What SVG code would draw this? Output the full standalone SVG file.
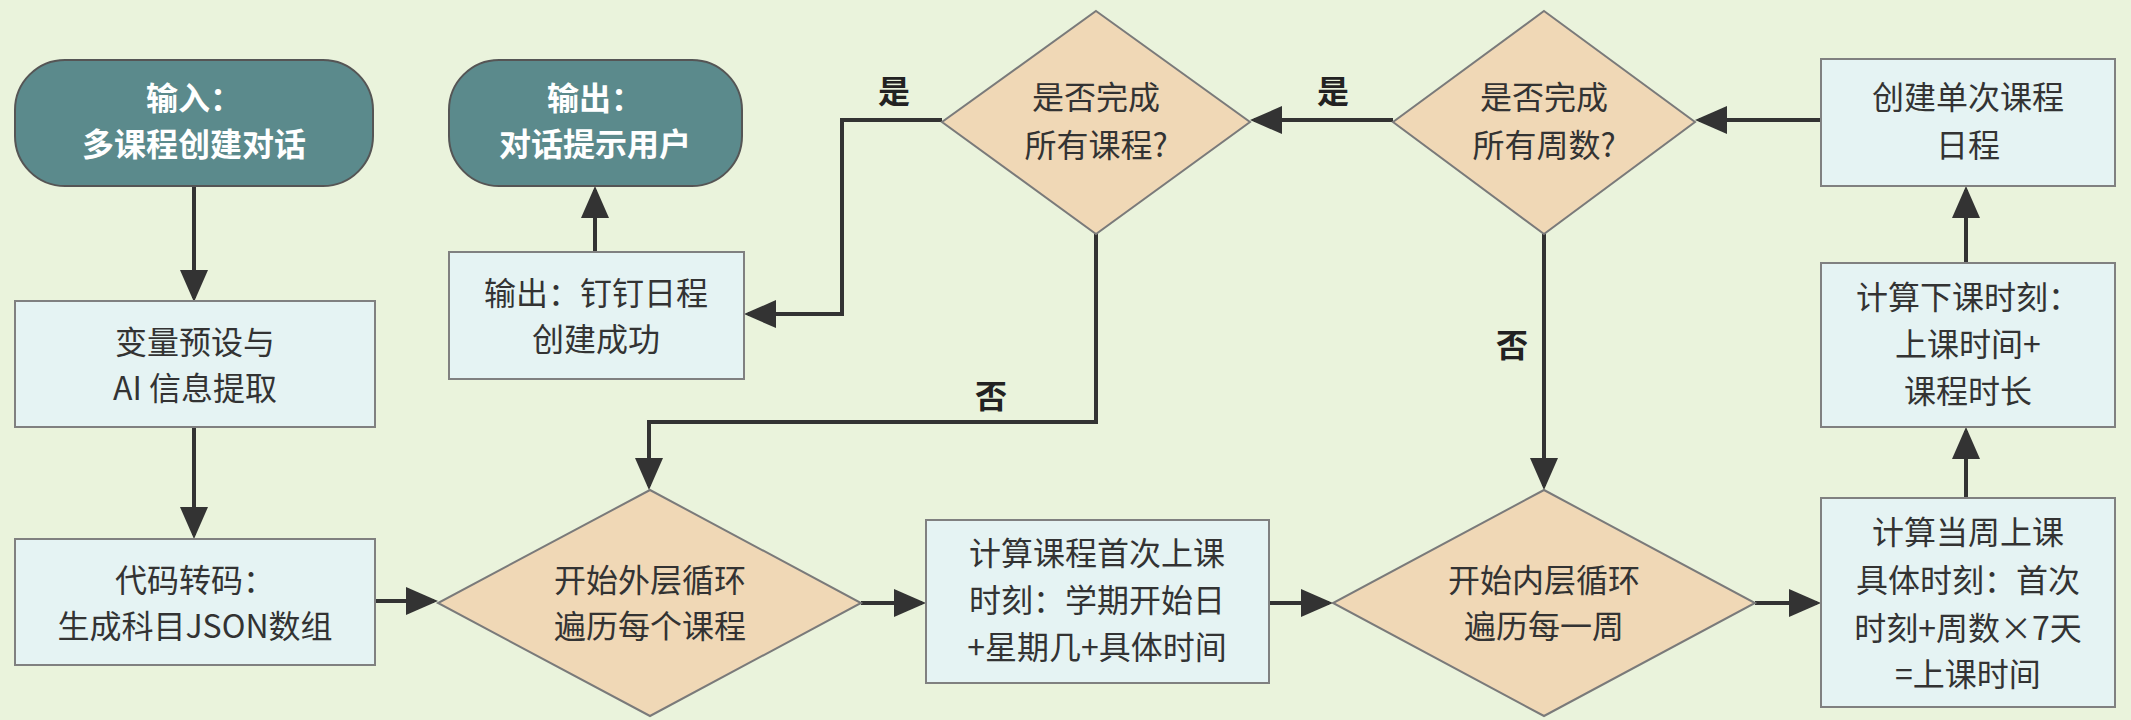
<svg xmlns="http://www.w3.org/2000/svg" width="2131" height="720" viewBox="0 0 2131 720">
<style>
.box{fill:#e5f3f3;stroke:#808080;stroke-width:2}
.dia{fill:#f0d8b6;stroke:#7a7a7a;stroke-width:2}
.term{fill:#5b8a8c;stroke:#555;stroke-width:2}
text{font-family:"Noto Sans CJK SC","Noto Sans",sans-serif;font-size:32px;fill:#333;text-anchor:middle}
.tw{fill:#fff;font-weight:bold}
.lb{font-weight:bold;fill:#222}
.c{fill:none;stroke:#333;stroke-width:4}
</style>
<defs><marker id="a" markerWidth="8" markerHeight="8" refX="7" refY="4" orient="auto" markerUnits="strokeWidth"><path d="M0,0.5 L8,4 L0,7.5 Z" fill="#333"/></marker></defs>
<rect width="2131" height="720" fill="#eaf3dc"/>
<g id="connectors">
<path class="c" marker-end="url(#a)" d="M194,186 V298"/>
<path class="c" marker-end="url(#a)" d="M194,427 V535"/>
<path class="c" marker-end="url(#a)" d="M375,601 H434"/>
<path class="c" marker-end="url(#a)" d="M861,603 H922"/>
<path class="c" marker-end="url(#a)" d="M1269,603 H1329"/>
<path class="c" marker-end="url(#a)" d="M1755,603 H1817"/>
<path class="c" marker-end="url(#a)" d="M1966,498 V431"/>
<path class="c" marker-end="url(#a)" d="M1966,263 V190"/>
<path class="c" marker-end="url(#a)" d="M1821,120 H1699"/>
<path class="c" marker-end="url(#a)" d="M1393,120 H1254"/>
<path class="c" marker-end="url(#a)" d="M1544,234 V486"/>
<path class="c" marker-end="url(#a)" d="M942,120 H842 V314 H748"/>
<path class="c" marker-end="url(#a)" d="M1096,234 V422 H649 V486"/>
<path class="c" marker-end="url(#a)" d="M595,252 V190"/>
<text class="lb" x="894" y="103">是</text>
<text class="lb" x="1333" y="103">是</text>
<text class="lb" x="991" y="408">否</text>
<text class="lb" x="1512" y="357">否</text>
</g>
<g id="input"><rect class="term" x="15" y="60" width="358" height="126" rx="50"/><text class="tw" x="194" y="110">输入：</text><text class="tw" x="194" y="156">多课程创建对话</text></g>
<g id="output"><rect class="term" x="449" y="60" width="293" height="126" rx="50"/><text class="tw" x="595" y="110">输出：</text><text class="tw" x="595" y="156">对话提示用户</text></g>
<g id="outbox"><rect class="box" x="449" y="252" width="295" height="127"/><text x="596" y="305">输出：钉钉日程</text><text x="596" y="351">创建成功</text></g>
<g id="preset"><rect class="box" x="15" y="301" width="360" height="126"/><text x="195" y="354">变量预设与</text><text x="195" y="400">AI 信息提取</text></g>
<g id="transcode"><rect class="box" x="15" y="539" width="360" height="126"/><text x="195" y="592">代码转码：</text><text x="195" y="638">生成科目JSON数组</text></g>
<g id="outer"><polygon class="dia" points="650,490 861,603 650,716 438,603"/><text x="650" y="592">开始外层循环</text><text x="650" y="638">遍历每个课程</text></g>
<g id="first"><rect class="box" x="926" y="520" width="343" height="163"/><text x="1097" y="565">计算课程首次上课</text><text x="1097" y="612">时刻：学期开始日</text><text x="1097" y="659">+星期几+具体时间</text></g>
<g id="inner"><polygon class="dia" points="1544,490 1755,603 1544,716 1333,603"/><text x="1544" y="592">开始内层循环</text><text x="1544" y="638">遍历每一周</text></g>
<g id="week"><rect class="box" x="1821" y="498" width="294" height="209"/><text x="1968" y="544">计算当周上课</text><text x="1968" y="592">具体时刻：首次</text><text x="1968" y="640">时刻+周数×7天</text><text x="1968" y="686">=上课时间</text></g>
<g id="end"><rect class="box" x="1821" y="263" width="294" height="164"/><text x="1968" y="309">计算下课时刻：</text><text x="1968" y="356">上课时间+</text><text x="1968" y="403">课程时长</text></g>
<g id="create"><rect class="box" x="1821" y="59" width="294" height="127"/><text x="1968" y="109">创建单次课程</text><text x="1968" y="157">日程</text></g>
<g id="weeksdone"><polygon class="dia" points="1544,11 1695,122 1544,234 1393,122"/><text x="1544" y="109">是否完成</text><text x="1544" y="157">所有周数?</text></g>
<g id="coursesdone"><polygon class="dia" points="1096,11 1250,122 1096,234 942,122"/><text x="1096" y="109">是否完成</text><text x="1096" y="157">所有课程?</text></g>
</svg>
